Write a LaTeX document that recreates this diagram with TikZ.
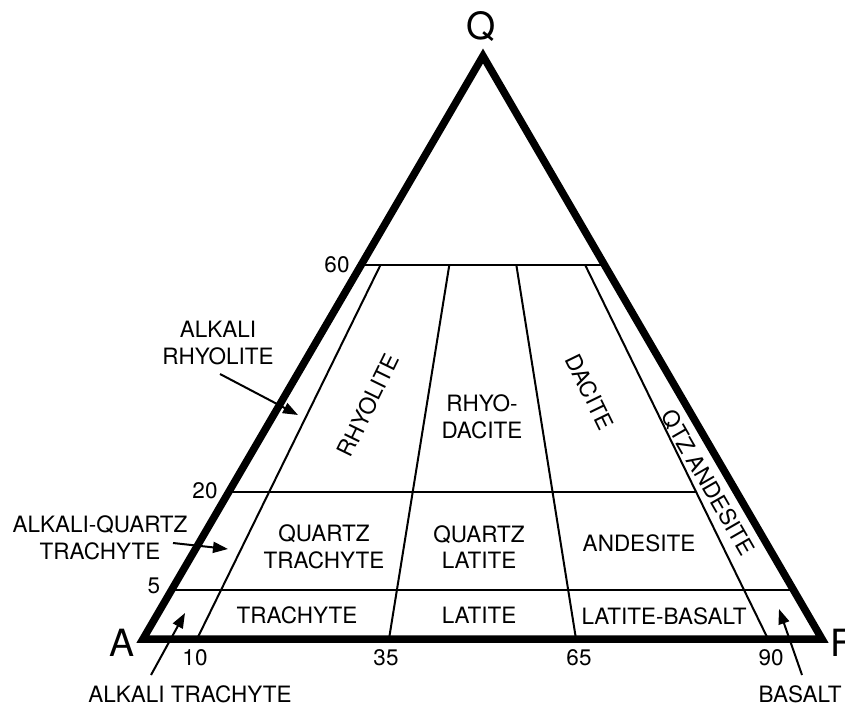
\documentclass[tikz,border=0pt]{standalone}
\usepackage{fontspec}
\setmainfont{TeX Gyre Heros}
\usepackage{tikz}
\usetikzlibrary{arrows.meta, positioning, calc}
\tikzset{every node/.style={font=\fontsize{22.5}{26.5}\selectfont, inner sep=0pt, align=center}, every path/.style={line join=miter}, >={Triangle[length=15pt, width=11pt]}}
\tikzset{frame/.style={line width=7.5pt}, divider/.style={line width=2pt}, pointer/.style={line width=2pt, ->}, corner/.style={font=\fontsize{37.5}{40}\selectfont}}

\begin{document}
\begin{tikzpicture}[x=1pt, y=-1pt]
    \useasboundingbox (0,0) rectangle (845,708);
    % corners and foot points on the A-F side
    \coordinate (A) at (143,639);
    \coordinate (F) at (822,639);
    \coordinate (Q) at (483,56);
    \coordinate (b10) at (197,639);
    \coordinate (b35) at (389,639);
    \coordinate (b65) at (576,639);
    \coordinate (b90) at (768,639);
    % field boundaries
    \draw [divider] ($(A)!0.6415!(Q)$) -- ($(F)!0.6415!(Q)$);
    \draw [divider] ($(A)!0.252!(Q)$) -- ($(b90)!0.252!(Q)$);
    \draw [divider] ($(A)!0.084!(Q)$) -- ($(F)!0.084!(Q)$);
    \foreach \b in {b10, b35, b65, b90}
        \draw [divider] (\b) -- ($(\b)!0.6415!(Q)$);
    \draw [frame] (A) -- (F) -- (Q) -- cycle;

    \node [corner] (labQ) at (481,27) {Q};
    \node [corner] (labA) at (122,643) {A};
    \node [corner, anchor=west] (labF) at (830,643) {F};

    \node (n60) at (337,265) {60};
    \node (n20) at (205,491) {20};
    \node (n5) at (154,586) {5};
    \node (n10) at (195,658) {10};
    \node (n35) at (386,658) {35};
    \node (n65) at (579,658) {65};
    \node (n90) at (771,658) {90};

    \node [rotate=64] (rhyolite) at (368,405) {RHYOLITE};
    \node (rhyodacite) at (482,417) {RHYO-\\DACITE};
    \node [rotate=-64] (dacite) at (590,392) {DACITE};
    \node [rotate=-60] (qtzandesite) at (708,483) {QTZ ANDESITE};
    \node (qtrachyte) at (324,547) {QUARTZ\\TRACHYTE};
    \node (qlatite) at (479,547) {QUARTZ\\LATITE};
    \node (andesite) at (639,543) {ANDESITE};
    \node (trachyte) at (297,615) {TRACHYTE};
    \node (latite) at (479,615) {LATITE};
    \node (latbasalt) at (664,616) {LATITE-BASALT};

    \node (alkrhy) at (218,343) {ALKALI\\RHYOLITE};
    \node (alkqtz) at (100,538) {ALKALI-QUARTZ\\TRACHYTE};
    \node (alktra) at (190,694) {ALKALI TRACHYTE};
    \node (basalt) at (800,694) {BASALT};

    % pointers from the outside labels
    \coordinate (tailAR) at (220,374);
    \coordinate (tipAR) at (298,415);
    \coordinate (tailAQ) at (173,543);
    \coordinate (tipAQ) at (228,549);
    \coordinate (tailAT) at (151,675);
    \coordinate (tipAT) at (185,613);
    \coordinate (tailB) at (802,675);
    \coordinate (tipB) at (779,609);
    \draw [pointer] (tailAR) -- (tipAR);
    \draw [pointer] (tailAQ) -- (tipAQ);
    \draw [pointer] (tailAT) -- (tipAT);
    \draw [pointer] (tailB) -- (tipB);
\end{tikzpicture}
\end{document}
